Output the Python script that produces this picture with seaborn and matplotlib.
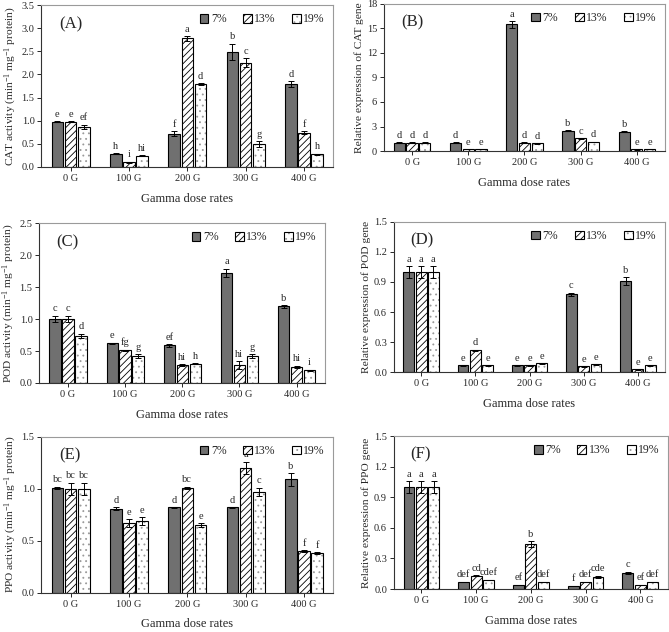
import matplotlib
matplotlib.use('Agg')
import matplotlib.pyplot as plt
import matplotlib.colors as mcolors
import numpy as np
import pandas as pd
import seaborn as sns

sns.set_style('white')
plt.rcParams['font.family'] = ['Liberation Serif', 'DejaVu Serif']
plt.rcParams['mathtext.fontset'] = 'custom'
plt.rcParams['mathtext.rm'] = 'Liberation Serif'
plt.rcParams['mathtext.it'] = 'Liberation Serif:italic'
plt.rcParams['hatch.linewidth'] = 0.6

doses = ['0 G', '100 G', '200 G', '300 G', '400 G']
concs = ['7%', '13%', '19%']

# (A) CAT activity
cat_act = [[0.98, 0.28, 0.72, 2.49, 1.79],
           [0.98, 0.10, 2.78, 2.25, 0.74],
           [0.86, 0.24, 1.79, 0.49, 0.27]]
cat_act_err = [[0.01, 0.01, 0.05, 0.17, 0.06],
               [0.01, 0.01, 0.05, 0.10, 0.03],
               [0.05, 0.01, 0.02, 0.07, 0.01]]
cat_act_let = [['e', 'h', 'f', 'b', 'd'],
               ['e', 'i', 'a', 'c', 'f'],
               ['ef', 'hi', 'd', 'g', 'h']]

# (B) CAT gene
cat_gene = [[1.0, 1.0, 15.5, 2.5, 2.35],
            [1.0, 0.25, 1.0, 1.55, 0.2],
            [1.0, 0.25, 0.95, 1.1, 0.25]]
cat_gene_err = [[0.05, 0.05, 0.4, 0.08, 0.08],
                [0.05, 0.02, 0.05, 0.05, 0.02],
                [0.05, 0.02, 0.05, 0.05, 0.02]]
cat_gene_let = [['d', 'd', 'a', 'b', 'b'],
                ['d', 'e', 'd', 'c', 'e'],
                ['d', 'e', 'd', 'd', 'e']]

# (C) POD activity
pod_act = [[1.0, 0.62, 0.59, 1.72, 1.20],
           [1.0, 0.51, 0.28, 0.28, 0.25],
           [0.74, 0.42, 0.30, 0.42, 0.20]]
pod_act_err = [[0.05, 0.01, 0.02, 0.07, 0.02],
               [0.05, 0.01, 0.01, 0.06, 0.02],
               [0.03, 0.03, 0.01, 0.03, 0.01]]
pod_act_let = [['c', 'e', 'ef', 'a', 'b'],
               ['c', 'fg', 'hi', 'hi', 'hi'],
               ['d', 'g', 'h', 'g', 'i']]

# (D) POD gene
pod_gene = [[1.0, 0.07, 0.07, 0.78, 0.91],
            [1.0, 0.22, 0.07, 0.06, 0.03],
            [1.0, 0.07, 0.09, 0.08, 0.07]]
pod_gene_err = [[0.06, 0.003, 0.003, 0.015, 0.035],
                [0.06, 0.005, 0.003, 0.003, 0.003],
                [0.06, 0.003, 0.003, 0.003, 0.003]]
pod_gene_let = [['a', 'e', 'e', 'c', 'b'],
                ['a', 'd', 'e', 'e', 'e'],
                ['a', 'e', 'e', 'e', 'e']]

# (E) PPO activity
ppo_act = [[1.01, 0.81, 0.82, 0.82, 1.09],
           [1.0, 0.67, 1.01, 1.20, 0.40],
           [1.0, 0.69, 0.65, 0.97, 0.38]]
ppo_act_err = [[0.01, 0.01, 0.005, 0.005, 0.06],
               [0.06, 0.04, 0.01, 0.06, 0.01],
               [0.06, 0.04, 0.02, 0.04, 0.01]]
ppo_act_let = [['bc', 'd', 'd', 'd', 'b'],
               ['bc', 'e', 'bc', 'a', 'f'],
               ['bc', 'e', 'e', 'c', 'f']]

# (F) PPO gene
ppo_gene = [[1.0, 0.07, 0.04, 0.03, 0.16],
            [1.0, 0.13, 0.44, 0.07, 0.04],
            [1.0, 0.09, 0.07, 0.12, 0.07]]
ppo_gene_err = [[0.06, 0.003, 0.003, 0.003, 0.01],
                [0.06, 0.005, 0.03, 0.003, 0.003],
                [0.06, 0.003, 0.003, 0.01, 0.003]]
ppo_gene_let = [['a', 'def', 'ef', 'f', 'c'],
                ['a', 'cd', 'b', 'def', 'ef'],
                ['a', 'cdef', 'def', 'cde', 'def']]

panels = [
    ('(A)', cat_act, cat_act_err, cat_act_let, 'CAT activity (min$^{-1}$ mg$^{-1}$ protein)',
     3.5, 0.5, '%.1f', [0.062, 0.736, 0.436, 0.256]),
    ('(B)', cat_gene, cat_gene_err, cat_gene_let, 'Relative expression of CAT gene',
     18, 3, '%d', [0.574, 0.761, 0.420, 0.233]),
    ('(C)', pod_act, pod_act_err, pod_act_let, 'POD activity (min$^{-1}$ mg$^{-1}$ protein)',
     2.5, 0.5, '%.1f', [0.059, 0.394, 0.427, 0.253]),
    ('(D)', pod_gene, pod_gene_err, pod_gene_let, 'Relative expression of POD gene',
     1.5, 0.3, '%.1f', [0.589, 0.411, 0.405, 0.238]),
    ('(E)', ppo_act, ppo_act_err, ppo_act_let, 'PPO activity (min$^{-1}$ mg$^{-1}$ protein)',
     1.5, 0.5, '%.1f', [0.062, 0.062, 0.436, 0.247]),
    ('(F)', ppo_gene, ppo_gene_err, ppo_gene_let, 'Relative expression of PPO gene',
     1.5, 0.3, '%.1f', [0.589, 0.068, 0.409, 0.242]),
]

bar_colors = ['#707070', 'white', 'white']
hatches = [None, '/////', '...']
dot_color = mcolors.to_rgba('#9a9a9a')


def style_patch(patch, ci):
    if hatches[ci]:
        patch.set_hatch(hatches[ci])
        if ci == 2:
            # lighter dots while the outline stays black
            patch._hatch_color = dot_color


fig = plt.figure(figsize=(6.69, 6.32), dpi=100)

for tag, vals, errs, lets, ylabel, ymax, ystep, fmt, pos in panels:
    ax = fig.add_axes(pos)
    rows = []
    for ci, c in enumerate(concs):
        for di, d in enumerate(doses):
            rows.append({'dose': d, 'conc': c, 'value': vals[ci][di]})
    df = pd.DataFrame(rows)
    sns.barplot(data=df, x='dose', y='value', hue='conc', order=doses, hue_order=concs,
                palette=bar_colors, edgecolor='black', linewidth=0.8, errorbar=None,
                width=0.68, gap=0.12, ax=ax)
    bar_conts = list(ax.containers)
    for ci, cont in enumerate(bar_conts):
        for di, patch in enumerate(cont.patches):
            style_patch(patch, ci)
            xc = patch.get_x() + patch.get_width() / 2
            h = patch.get_height()
            e = errs[ci][di]
            ax.errorbar(xc, h, yerr=e, color='black', capsize=2.2, elinewidth=0.7,
                        capthick=0.7, fmt='none')
            ax.text(xc, h + e + ymax * 0.015, lets[ci][di], ha='center', va='bottom',
                    fontsize=7.5)
    ax.set_ylim(0, ymax)
    ax.set_xlim(-0.5, 4.5)
    ax.set_yticks(np.arange(0, ymax + ystep / 2, ystep))
    ax.yaxis.set_major_formatter(matplotlib.ticker.FormatStrFormatter(fmt))
    ax.set_ylabel(ylabel, fontsize=8.2, labelpad=2)
    ax.set_xlabel('Gamma dose rates', fontsize=9, labelpad=7)
    ax.tick_params(axis='both', labelsize=7.5, direction='out', length=3, width=0.7,
                   left=True, bottom=True, pad=2)
    for s in ['left', 'bottom']:
        ax.spines[s].set_color('#333333')
        ax.spines[s].set_linewidth(0.8)
    for s in ['top', 'right']:
        ax.spines[s].set_color('#9a9a9a')
        ax.spines[s].set_linewidth(0.8)
    ax.text(0.06, 0.93, tag, transform=ax.transAxes, fontsize=12, va='top', ha='left')
    leg = ax.legend(loc='upper right', ncol=3, frameon=False, fontsize=8.5,
                    handlelength=0.75, handleheight=0.75, handletextpad=0.2,
                    columnspacing=1.4, borderaxespad=0.3, bbox_to_anchor=(1.0, 1.0))
    for ci, lp in enumerate(leg.get_patches()):
        lp.set_edgecolor('black')
        lp.set_linewidth(0.8)
        style_patch(lp, ci)

fig.savefig('out.png', dpi=100)
